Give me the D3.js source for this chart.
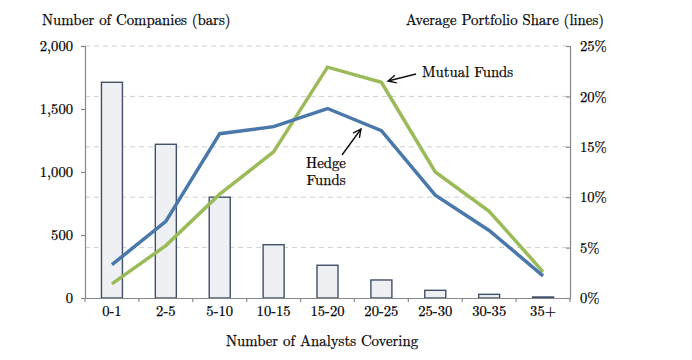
<!DOCTYPE html>
<html><head><meta charset="utf-8">
<script src="https://cdn.jsdelivr.net/npm/d3@7"></script>
<style>body{margin:0;background:#fff}svg{display:block}</style>
</head><body><svg id="c" width="692" height="360"></svg>
<script>
const categories = ["0-1","2-5","5-10","10-15","15-20","20-25","25-30","30-35","35+"];
const companies = [1712, 1220, 800, 423, 260, 143, 61, 29, 8];
const hedgeFunds = [3.3, 7.6, 16.3, 17.0, 18.8, 16.6, 10.2, 6.7, 2.2];
const mutualFunds = [1.4, 5.2, 10.3, 14.5, 22.9, 21.4, 12.5, 8.6, 2.6];
const leftTicks = [0, 500, 1000, 1500, 2000];
const rightTicks = [0, 5, 10, 15, 20, 25];

const FONT = "Latin Modern Roman";
const svg = d3.select("#c");
svg.append("rect").attr("width", 692).attr("height", 360).attr("fill", "#fff");
const L = 85, R = 570, T = 46, B = 298;
const x = d3.scaleBand().domain(categories).range([L, R]);
const yL = d3.scaleLinear().domain([0, 2000]).range([B, T]);
const yR = d3.scaleLinear().domain([0, 25]).range([B, T]);

// grid
svg.append("g").selectAll("line").data(rightTicks.filter(d => d > 0)).join("line")
  .attr("x1", L).attr("x2", R).attr("y1", d => yR(d)).attr("y2", d => yR(d))
  .attr("stroke", "#cfcfcf").attr("stroke-dasharray", "5,4").attr("stroke-width", 1);

// bars
const bw = 21;
svg.append("g").selectAll("rect").data(companies).join("rect")
  .attr("x", (d, i) => x(categories[i]) + x.bandwidth() / 2 - bw / 2)
  .attr("y", d => yL(d)).attr("width", bw).attr("height", d => B - yL(d))
  .attr("fill", "#eef0f3").attr("stroke", "#3f5069").attr("stroke-width", 1.4);

// lines
const line = d3.line().x((d, i) => x(categories[i]) + x.bandwidth() / 2).y(d => yR(d));
svg.append("path").datum(mutualFunds).attr("d", line).attr("fill", "none")
  .attr("stroke", "#9bbb59").attr("stroke-width", 3.5);
svg.append("path").datum(hedgeFunds).attr("d", line).attr("fill", "none")
  .attr("stroke", "#4a78aa").attr("stroke-width", 3.5);

// axes
const axisColor = "#888";
const TS = 14.6;
function styleAxis(g) {
  g.attr("font-family", FONT).attr("font-size", TS);
  g.select(".domain").attr("stroke", axisColor).attr("stroke-width", 1.2);
  g.selectAll(".tick line").attr("stroke", axisColor).attr("stroke-width", 1.2);
  g.selectAll(".tick text").attr("font-family", FONT).attr("font-size", TS).attr("fill", "#000")
    .attr("stroke", "#000").attr("stroke-width", 0.25);
}
svg.append("g").attr("transform", `translate(${L},0)`)
  .call(d3.axisLeft(yL).tickValues(leftTicks).tickFormat(d3.format(",")).tickSizeOuter(0).tickSize(4).tickPadding(8))
  .call(styleAxis);
svg.append("g").attr("transform", `translate(${R},0)`)
  .call(d3.axisLeft(yR).tickValues(rightTicks).tickFormat(d => d + "%").tickSizeOuter(0).tickSize(4))
  .call(g => { styleAxis(g); g.selectAll(".tick text").attr("text-anchor", "start").attr("x", 10); });
const bx = svg.append("g").attr("transform", `translate(0,${B})`)
  .call(d3.axisBottom(x).tickSize(0).tickSizeOuter(0).tickPadding(8)).call(styleAxis);
bx.selectAll(".tick line").remove();
bx.selectAll("line.bt").data(d3.range(categories.length + 1)).join("line").attr("class", "bt")
  .attr("x1", i => L + i * x.step()).attr("x2", i => L + i * x.step())
  .attr("y1", 0).attr("y2", 4).attr("stroke", axisColor).attr("stroke-width", 1.2);

// titles
function txt(xp, yp, s, anchor, size) {
  return svg.append("text").attr("x", xp).attr("y", yp).attr("text-anchor", anchor || "start")
    .attr("font-family", FONT).attr("font-size", size || 14.8).attr("fill", "#000")
    .attr("stroke", "#000").attr("stroke-width", 0.25).text(s);
}
txt(42, 25, "Number of Companies (bars)");
txt(604, 25, "Average Portfolio Share (lines)", "end");
txt(322, 346, "Number of Analysts Covering", "middle");

// annotations
function arrow(x1, y1, x2, y2) {
  const a = Math.atan2(y2 - y1, x2 - x1), h = 9, s = 0.45;
  const p = `M${x1},${y1}L${x2},${y2}M${x2 - h * Math.cos(a - s)},${y2 - h * Math.sin(a - s)}L${x2},${y2}L${x2 - h * Math.cos(a + s)},${y2 - h * Math.sin(a + s)}`;
  svg.append("path").attr("d", p).attr("fill", "none").attr("stroke", "#111").attr("stroke-width", 1.4);
}
txt(422, 77, "Mutual Funds", "start", 14.8);
arrow(416, 74, 388, 81);
const hf = txt(326, 168, "", "middle", 14.8);
hf.append("tspan").attr("x", 326).attr("y", 168).text("Hedge");
hf.append("tspan").attr("x", 326).attr("y", 185).text("Funds");
arrow(342, 155, 361, 129);
</script></body></html>
